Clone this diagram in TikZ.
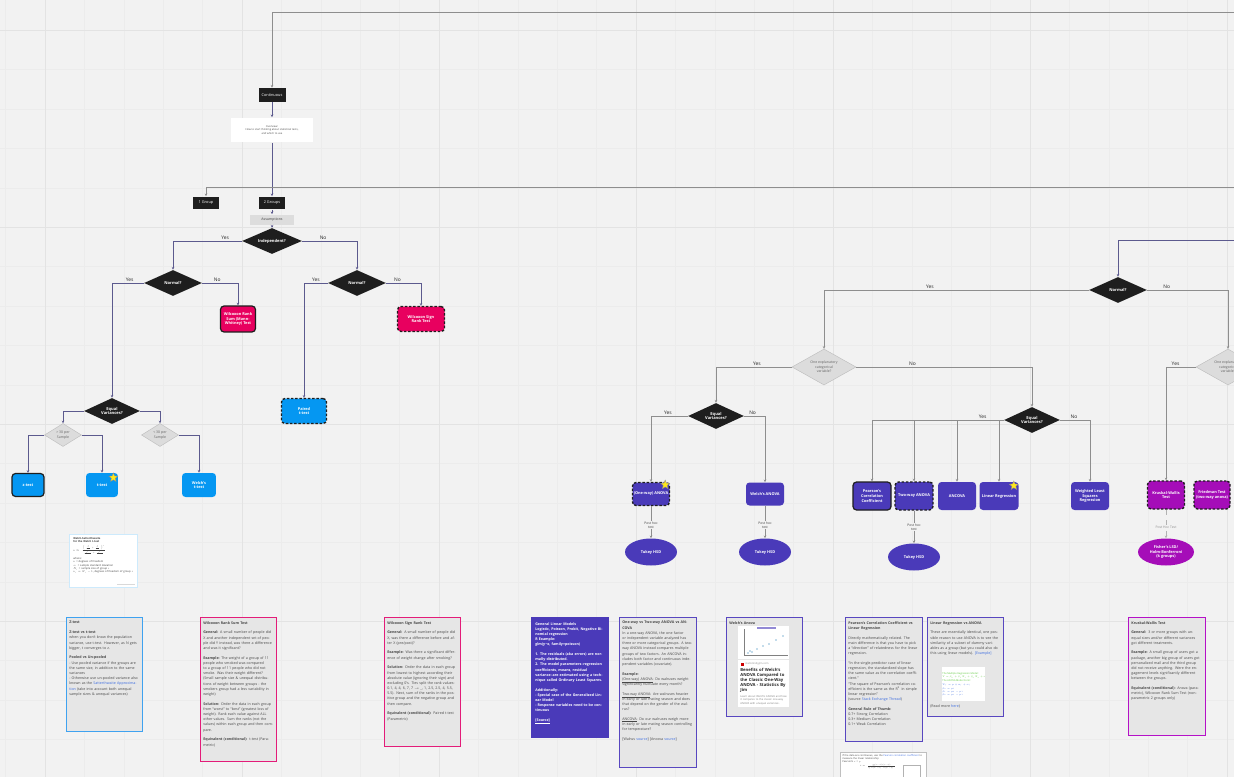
\RequirePackage{fix-cm}
\documentclass[tikz,border=0pt]{standalone}
\usepackage{fontspec}
\setmainfont{Open Sans}
\usepackage{xcolor}
\usepackage{amsmath}
\usetikzlibrary{positioning, arrows.meta, shapes, calc}

\definecolor{board}{HTML}{F2F2F2}
\definecolor{gridminor}{HTML}{ECECEC}
\definecolor{gridmajor}{HTML}{E3E3E3}
\definecolor{inkline}{HTML}{5C5A8E}
\definecolor{greyline}{HTML}{8E8E8E}
\definecolor{nodeblack}{HTML}{1E1E1E}
\definecolor{pinkred}{HTML}{E8005F}
\definecolor{skyblue}{HTML}{0597F2}
\definecolor{indigo}{HTML}{4A3AB9}
\definecolor{kwpurple}{HTML}{A50DB8}
\definecolor{cardgrey}{HTML}{E6E6E6}
\definecolor{zedge}{HTML}{3FA2F0}
\definecolor{pinkedge}{HTML}{E31C79}
\definecolor{indigoedge}{HTML}{5847C0}
\definecolor{kwedge}{HTML}{B511C7}
\definecolor{qgrey}{HTML}{DCDCDC}
\definecolor{qedge}{HTML}{BDBDBD}
\definecolor{assume}{HTML}{DDDDDD}
\definecolor{linkblue}{HTML}{3D6DE0}
\definecolor{starfill}{HTML}{FFE81A}
\definecolor{eqgreen}{HTML}{5CC93A}

\newcommand{\cardgap}{\par\vspace{2.6pt}}

\begin{document}
\begin{tikzpicture}[
        x=0.02cm, y=-0.02cm,
        decision/.style={diamond, aspect=2.2, fill=nodeblack, text=white, inner sep=0pt, minimum width=1.16cm, minimum height=0.52cm, align=center, font=\fontsize{2.3}{2.8}\selectfont\bfseries},
        question/.style={diamond, aspect=1.7, fill=qgrey, draw=qedge, line width=0.25pt, text=black!60, inner sep=0pt, minimum width=0.74cm, minimum height=0.46cm, align=center, font=\fontsize{2}{2.5}\selectfont},
        heading/.style={rectangle, fill=nodeblack, text=white, inner sep=0pt, minimum width=0.54cm, minimum height=0.28cm, font=\fontsize{2.2}{2.6}\selectfont},
        method/.style={rectangle, rounded corners=2pt, fill=#1, text=white, inner sep=0.4pt, minimum width=0.68cm, minimum height=0.5cm, align=center, font=\fontsize{2.2}{2.7}\selectfont\bfseries},
        bordered/.style={draw=nodeblack, line width=0.7pt},
        dashedbox/.style={draw=nodeblack, line width=0.8pt, dash pattern=on 1.4pt off 1pt},
        posthoc/.style={ellipse, fill=#1, text=white, inner sep=0pt, minimum width=1.04cm, minimum height=0.54cm, align=center, font=\fontsize{2.2}{2.7}\selectfont\bfseries},
        flow/.style={draw=inkline, line width=0.45pt, -{Stealth[length=1.5pt, width=1.4pt]}},
        flowgrey/.style={flow, draw=greyline},
        answer/.style={inner sep=0.6pt, text=black!85, font=\fontsize{2.8}{3.2}\selectfont},
        hint/.style={fill=board, inner sep=0.4pt, text=black!75, align=center, font=\fontsize{1.9}{2.3}\selectfont},
        card/.style={rectangle, draw=#1, line width=0.75pt, fill=cardgrey, anchor=north west, inner sep=0pt},
        cardtext/.style={anchor=north west, inner sep=0pt, text width=1.40cm, align=left, text=black!72, font=\fontsize{2.05}{2.95}\selectfont},
        badge/.style={star, star points=5, star point ratio=2.3, fill=starfill, draw=black!45, line width=0.2pt, inner sep=0pt, minimum size=0.19cm},
        shot/.style={rectangle, fill=white, anchor=north west, inner sep=0pt}
    ]

    \useasboundingbox (0,0) rectangle (1234,777);
    \clip (0,0) rectangle (1234,777);

    % board and grid
    \fill[board] (0,0) rectangle (1234,777);
    \foreach \k in {0,...,31} {
        \draw[gridminor, line width=0.3pt] ({5.6+39.4*\k},0) -- ({5.6+39.4*\k},777);
    }
    \foreach \k in {0,...,20} {
        \draw[gridminor, line width=0.3pt] (0,{-9.2+39.4*\k}) -- (1234,{-9.2+39.4*\k});
    }
    \foreach \k in {0,...,6} {
        \draw[gridmajor, line width=0.4pt] ({45+197*\k},0) -- ({45+197*\k},777);
    }
    \foreach \k in {0,...,3} {
        \draw[gridmajor, line width=0.4pt] (0,{30+197*\k}) -- (1234,{30+197*\k});
    }

    % --------------------------------------------------
    % top: continuous data
    \coordinate (topin) at (1234,12);
    \coordinate (groupsin) at (1234,187);
    \coordinate (rightin) at (1234,240);

    \node[heading] (cont) at (272,95) {Continuous};
    \node[fill=white, inner sep=0pt, minimum width=1.64cm, minimum height=0.5cm, align=center, text=black!70, font=\fontsize{1.5}{2.1}\selectfont] (overview) at (272,130)
        {Overview:\\How to start thinking about statistical tests,\\and which to use};
    \node[heading, minimum width=0.52cm, minimum height=0.26cm] (onegroup) at (206,203) {1 Group};
    \node[heading, minimum width=0.52cm, minimum height=0.26cm] (twogroups) at (272,203) {2 Groups};
    \node[fill=assume, inner sep=0pt, minimum width=0.88cm, minimum height=0.22cm, text=black!75, font=\fontsize{2}{2.4}\selectfont] (assump) at (272,220) {Assumptions};

    \draw[flowgrey] (topin) -| (cont.north);
    \draw[flow] (cont.south) -- (overview.north);
    \draw[flow] (overview.south) -- (twogroups.north);
    \draw[flowgrey] (groupsin) -| (onegroup.north);

    % --------------------------------------------------
    % left tree: two groups
    \node[decision, minimum width=1.2cm] (indep) at (272,241) {Independent?};
    \node[decision] (normA) at (173,283) {Normal?};
    \node[decision] (normB) at (357,283) {Normal?};
    \node[method=pinkred, bordered, minimum width=0.7cm, minimum height=0.52cm] (wrs) at (238,319) {Wilcoxon Rank\\Sum (Mann-\\Whitney) Test};
    \node[method=pinkred, dashedbox, minimum width=0.94cm] (wsr) at (421,319) {Wilcoxon Sign\\Rank Test};
    \node[method=skyblue, dashedbox, minimum width=0.9cm] (paired) at (304,411) {Paired\\t-test};
    \node[decision, minimum width=1.12cm] (eqvA) at (112,411) {Equal\\Variances?};
    \node[question, aspect=1.6] (large) at (63,435) {> 30 per\\Sample};
    \node[question, aspect=1.6] (small) at (160,435) {< 30 per\\Sample};
    \node[method=skyblue, bordered, minimum width=0.64cm, minimum height=0.46cm] (ztest) at (28,485) {z-test};
    \node[method=skyblue, minimum width=0.64cm, minimum height=0.48cm] (ttest) at (102,485) {t-test};
    \node[badge] (ttstar) at ([shift={(-5,5)}]ttest.north east) {};
    \node[method=skyblue, minimum width=0.68cm, minimum height=0.48cm] (welcht) at (199,485) {Welch's\\t-test};

    \draw[flow] (twogroups.south) -- (assump.north);
    \draw[flow] (assump.south) -- (indep.north);
    \draw[flow] (indep.west) -| node[answer, above, pos=0.12] (yesindep) {Yes} (normA.north);
    \draw[flow] (indep.east) -| node[answer, above, pos=0.19] (noindep) {No} (normB.north);
    \draw[flow] (normA.west) -| node[answer, above, pos=0.22] (yesnormA) {Yes} (eqvA.north);
    \draw[flow] (normA.east) -| node[answer, above, pos=0.21] (nonormA) {No} (wrs.north);
    \draw[flow] (normB.west) -| node[answer, above, pos=0.25] (yesnormB) {Yes} (paired.north);
    \draw[flow] (normB.east) -| node[answer, above, pos=0.16] (nonormB) {No} (wsr.north);
    \draw[flow] (eqvA.west) -| (large.north);
    \draw[flow] (eqvA.east) -| (small.north);
    \draw[flow] (large.west) -| (ztest.north);
    \draw[flow] (large.east) -| (ttest.north);
    \draw[flow] (small.east) -| (welcht.north);

    % --------------------------------------------------
    % right tree: three or more groups
    \node[decision] (normC) at (1118,290) {Normal?};
    \node[question, aspect=1.78, minimum width=1.28cm, minimum height=0.72cm] (expl) at (824,367) {One explanatory\\categorical\\variable?};
    \node[question, aspect=1.78, minimum width=1.28cm, minimum height=0.72cm] (explB) at (1228,367) {One explanatory\\categorical\\variable?};
    \node[decision, minimum width=1.12cm] (eqvB) at (716,416) {Equal\\Variances?};
    \node[decision, minimum width=1.12cm] (eqvC) at (1032,420) {Equal\\Variances?};
    \node[method=indigo, dashedbox, minimum width=0.74cm, minimum height=0.46cm] (oneway) at (651,494) {(One-way) ANOVA};
    \node[badge] (owstar) at ([shift={(-5,3)}]oneway.north east) {};
    \node[method=indigo, minimum width=0.76cm, minimum height=0.46cm] (welcha) at (765,494) {Welch's ANOVA};
    \node[posthoc=indigo] (tukeyA) at (651,552) {Tukey HSD};
    \node[posthoc=indigo] (tukeyB) at (765,552) {Tukey HSD};
    \node[method=indigo, bordered, minimum width=0.76cm, minimum height=0.56cm] (pearson) at (872,496) {Pearson's\\Correlation\\Coefficient};
    \node[method=indigo, dashedbox, minimum width=0.76cm, minimum height=0.56cm] (twoway) at (914,496) {Two-way ANOVA};
    \node[method=indigo, minimum width=0.76cm, minimum height=0.56cm] (ancova) at (957,496) {ANCOVA};
    \node[method=indigo, minimum width=0.78cm, minimum height=0.56cm] (linreg) at (999,496) {Linear Regression};
    \node[badge] (lrstar) at ([shift={(-5,4)}]linreg.north east) {};
    \node[method=indigo, minimum width=0.76cm, minimum height=0.56cm] (wls) at (1090,496) {Weighted Least\\Squares\\Regression};
    \node[posthoc=indigo] (tukeyC) at (914,557) {Tukey HSD};
    \node[method=kwpurple, dashedbox, minimum width=0.74cm, minimum height=0.56cm] (kruskal) at (1166,495) {Kruskal-Wallis\\Test};
    \node[method=kwpurple, dashedbox, minimum width=0.72cm, minimum height=0.56cm] (friedman) at (1212,495) {Friedman Test\\(two-way anova)};
    \node[posthoc=kwpurple, minimum width=1.12cm] (fisher) at (1166,552) {Fisher's LSD/\\Holm-Bonferroni\\(k groups)};

    \draw[flow] (rightin) -| (normC.north);
    \draw[flowgrey] (normC.west) -| node[answer, above, pos=0.3] (yesnormC) {Yes} (expl.north);
    \draw[flowgrey] (normC.east) -| node[answer, above, pos=0.12] (nonormC) {No} (explB.north);
    \draw[flowgrey] (expl.west) -| node[answer, above, pos=0.23] (yesexpl) {Yes} (eqvB.north);
    \draw[flowgrey] (expl.east) -| node[answer, above, pos=0.16] (noexpl) {No} (eqvC.north);
    \draw[flowgrey] (eqvB.west) -| node[answer, above, pos=0.27] (yeseqvB) {Yes} (oneway.north);
    \draw[flowgrey] (eqvB.east) -| node[answer, above, pos=0.2] (noeqvB) {No} (welcha.north);
    \draw[flowgrey] (oneway.south) -- node[hint, pos=0.6] (phA) {Post hoc\\test} (tukeyA.north);
    \draw[flowgrey] (welcha.south) -- node[hint, pos=0.6] (phB) {Post hoc\\test} (tukeyB.north);
    \draw[flowgrey] (eqvC.west) -| node[answer, above, pos=0.08] (yeseqvC) {Yes} (pearson.north);
    \foreach \m in {twoway, ancova, linreg} {
        \draw[flowgrey] (\m.north |- eqvC.west) -- (\m.north);
    }
    \draw[flowgrey] (eqvC.east) -| node[answer, above, pos=0.23] (noeqvC) {No} (wls.north);
    \draw[flowgrey] (twoway.south) -- node[hint, pos=0.5] (phC) {Post hoc\\test} (tukeyC.north);
    \draw[flowgrey] (explB.west) -| node[answer, above, pos=0.34] (yesexplB) {Yes} (kruskal.north);
    \draw[flowgrey, draw=black!30, dashed] (kruskal.south) -- node[hint, text=black!45, pos=0.62] (phK) {Post Hoc Test} (fisher.north);

    % --------------------------------------------------
    % screenshots
    \node[shot, draw=skyblue!20, line width=0.3pt, minimum width=1.36cm, minimum height=1.06cm] (sattshot) at (69,534) {};
    \node[anchor=north west, inner sep=0pt, text width=1.24cm, align=left, text=black!75, font=\fontsize{1.5}{1.9}\selectfont] (satttext) at ([shift={(4,3)}]sattshot.north west)
        {\textbf{Welch-Satterthwaite}\\\textbf{for the Welch t-test}\\[0.6pt]
         $\nu \approx \frac{\left(\frac{s_1^2}{N_1}+\frac{s_2^2}{N_2}\right)^2}{\frac{s_1^4}{N_1^2\nu_1}+\frac{s_2^4}{N_2^2\nu_2}}$\\[0.6pt]
         where:\\ $\nu$ = degrees of freedom\\ $s_i$ = sample standard deviation\\ $N_i$ = sample size of group $i$\\ $\nu_i = N_i-1$, degrees of freedom of group $i$};
    \fill[black!15] ([shift={(-21,-4)}]sattshot.south east) rectangle ([shift={(-3,-2.5)}]sattshot.south east);

    \node[shot, draw=black!25, line width=0.3pt, minimum width=1.72cm, minimum height=0.6cm] (rshot) at (840,752) {};
    \node[anchor=north west, inner sep=0pt, text width=1.6cm, align=left, text=black!75, font=\fontsize{1.4}{1.8}\selectfont] (rtext) at ([shift={(2,2)}]rshot.north west)
        {If the data are continuous, use the \textcolor{linkblue}{Pearson correlation coefficient} to measure the linear relationship\\
         Pearson's $r$ = $\rho$\\[0.5pt]
         \hspace*{0.35cm}$r=\frac{\sum (x_i-\bar x)(y_i-\bar y)}{\sqrt{\sum (x_i-\bar x)^2\sum (y_i-\bar y)^2}}$};
    \draw[black!30, line width=0.3pt] (903,765) rectangle (920,777);

    % --------------------------------------------------
    % note cards
    \node[card=zedge, minimum width=1.52cm, minimum height=2.28cm] (zcard) at (66,617) {};
    \node[cardtext] (ztext) at ([shift={(3,4)}]zcard.north west)
        {\textbf{Z-test}\cardgap
         \textbf{Z-test vs t-test}\\
         when you don't know the population variance, use t-test. However, as N gets bigger, t converges to z.\cardgap
         \textbf{Pooled vs Un-pooled}\\
         - Use pooled variance if the groups are the same size, in addition to the same variances\\
         - Otherwise use un-pooled variance also known as the \textcolor{linkblue}{Satterthwaite Approximation} (take into account both unequal sample sizes \& unequal variances)};

    \node[card=pinkedge, minimum width=1.52cm, minimum height=2.88cm] (wrscard) at (200,617) {};
    \node[cardtext] (wrstext) at ([shift={(3,4)}]wrscard.north west)
        {\textbf{Wilcoxon Rank Sum Test}\cardgap
         \textbf{General:} A small number of people did X and another independent set of people did Y instead, was there a difference and was it significant?\cardgap
         \textbf{Example:} The weight of a group of 11 people who smoked was compared to a group of 11 people who did not smoke. Was their weight different? (Small sample size \& unequal distributions of weight between groups - the smokers group had a less variability in weight)\cardgap
         \textbf{Solution:} Order the data in each group from ``worst'' to ``best'' (greatest loss of weight). Rank each value against ALL other values. Sum the ranks (not the values) within each group and then compare.\cardgap
         \textbf{Equivalent (conditional):} t-test (Parametric)};

    \node[card=pinkedge, minimum width=1.52cm, minimum height=2.58cm] (wsrcard) at (384,617) {};
    \node[cardtext] (wsrtext) at ([shift={(3,4)}]wsrcard.north west)
        {\textbf{Wilcoxon Sign Rank Test}\cardgap
         \textbf{General:} A small number of people did X, was there a difference before and after X (pre/post)?\cardgap
         \textbf{Example:} Was there a significant difference of weight change after smoking?\cardgap
         \textbf{Solution:} Order the data in each group from lowest to highest according their absolute value (ignoring their sign) and excluding 0's. Ties split the rank values: 0.1, 4, 4, 6, 7, 7 $\rightarrow$ \_, 1, 2.5, 2.5, 4, 5.5, 5.5). Next, sum of the ranks in the positive group and the negative group and then compare.\cardgap
         \textbf{Equivalent (conditional):} Paired t-test (Parametric)};

    \node[card=indigo, fill=indigo, minimum width=1.54cm, minimum height=2.4cm] (glmcard) at (531,617) {};
    \node[cardtext, text=white, font=\fontsize{2.05}{2.95}\selectfont\bfseries] (glmtext) at ([shift={(4,5)}]glmcard.north west)
        {General Linear Models\\
         Logistic, Poisson, Probit, Negative Binomial regression\\
         R Example:\\
         glm(y\textasciitilde x, family=poisson)\cardgap
         1. The residuals (aka errors) are normally distributed.\\
         2. The model parameters--regression coefficients, means, residual variance--are estimated using a technique called Ordinary Least Squares.\cardgap
         Additionally:\\
         - Special case of the Generalized Linear Model\\
         - Response variables need to be continuous\cardgap
         \underline{[Source]}};

    \node[card=indigoedge, minimum width=1.54cm, minimum height=3.0cm] (anovacard) at (619,617) {};
    \node[cardtext] (anovatext) at ([shift={(3,4)}]anovacard.north west)
        {\textbf{One-way vs Two-way ANOVA vs ANCOVA}\\
         In a one-way ANOVA, the one factor or independent variable analyzed has three or more categorical groups. A two-way ANOVA instead compares multiple groups of two factors. An ANCOVA includes both factor and continuous independent variables (covariate).\cardgap
         \textbf{Example:}\\
         \underline{(One-way) ANOVA}: Do walruses weight significantly fluctuate every month?\cardgap
         \underline{Two-way ANOVA}: Are walruses heavier in early or late mating season and does that depend on the gender of the walrus?\cardgap
         \underline{ANCOVA}: Do our walruses weigh more in early or late mating season controlling for temperature?\cardgap
         [Walrus \textcolor{linkblue}{source}] [Ancova \textcolor{linkblue}{source}]};

    \node[card=indigoedge, minimum width=1.52cm, minimum height=1.98cm] (welchcard) at (726,617) {};
    \node[cardtext, font=\fontsize{2.05}{2.95}\selectfont\bfseries] (welchtitle) at ([shift={(3,4)}]welchcard.north west) {Welch's Anova};
    \node[shot, minimum width=1.02cm, minimum height=0.66cm] (welchplot) at (738,626) {};
    \draw[black!50, line width=0.2pt] (744,629) -- (744,655) -- (788,655);
    \fill[indigo!60] (757,627.3) rectangle (776,628.6);
    \foreach \px/\py in {748/653, 750/651, 752/652, 757/649, 763/646, 769/644, 776/640, 783/636} {
        \fill[skyblue!70!black] (\px,\py) circle (0.35pt);
    }
    \node[shot, minimum width=1.02cm, minimum height=0.94cm] (welchlink) at (738,660) {};
    \fill[red!80!black] (741,663) rectangle (743.5,665.5);
    \node[anchor=west, inner sep=0pt, text=black!45, font=\fontsize{1.5}{1.8}\selectfont] (welchsite) at (745,664.2) {statisticsbyjim.com};
    \node[anchor=north west, inner sep=0pt, text width=0.94cm, align=left, text=black!85, font=\fontsize{2.4}{2.9}\selectfont\bfseries] (welchhead) at (740,668)
        {Benefits of Welch's ANOVA Compared to the Classic One-Way ANOVA - Statistics By Jim};
    \node[anchor=north west, inner sep=0pt, text width=0.94cm, align=left, text=black!50, font=\fontsize{1.5}{1.9}\selectfont] (welchblurb) at (740,695)
        {Learn about Welch's ANOVA and how it compares to the classic one-way ANOVA with unequal variances.};

    \node[card=indigoedge, minimum width=1.54cm, minimum height=2.48cm] (pearsoncard) at (845,617) {};
    \node[cardtext] (pearsontext) at ([shift={(3,4)}]pearsoncard.north west)
        {\textbf{Pearson's Correlation Coefficient vs Linear Regression}\cardgap
         Directly mathematically related. The main difference is that you have to pick a ``direction'' of relatedness for the linear regression.\cardgap
         ``In the single-predictor case of linear regression, the standardized slope has the same value as the correlation coefficient.''\\
         ``The square of Pearson's correlation coefficient is the same as the R$^2$ in simple linear regression''\\
         (source \textcolor{linkblue}{Stack Exchange Thread})\cardgap
         \textbf{General Rule of Thumb:}\\
         0.7+ Strong Correlation\\
         0.3+ Medium Correlation\\
         0.1+ Weak Correlation};

    \node[card=indigoedge, minimum width=1.52cm, minimum height=1.98cm] (lracard) at (927,617) {};
    \node[cardtext] (lratext) at ([shift={(3,4)}]lracard.north west)
        {\textbf{Linear Regression vs ANOVA}\cardgap
         These are essentially identical, one possible reason to use ANOVA is to see the similarity of a subset of dummy variables as a group (but you could also do this using linear models). \textcolor{linkblue}{[Example]}};
    \node[shot, minimum width=0.86cm, minimum height=0.68cm] (lrshot) at (942,667) {};
    \node[inner sep=0pt, align=left, font=\fontsize{1.4}{1.8}\selectfont] (lrshottext) at (lrshot.center)
        {\textcolor{eqgreen}{The Multiple Regression Model:}\\
         \textcolor{eqgreen}{$Y=\beta_0+\beta_1X_1+\beta_2X_2+\epsilon$}\\[0.5pt]
         \textcolor{eqgreen}{The ANOVA Model Form:}\\
         \textcolor{linkblue}{$Y_{ij}=\mu+\alpha_j+\epsilon_{ij}$}\\[0.5pt]
         \textcolor{linkblue}{$\beta_0=\mu_1$}\\
         \textcolor{linkblue}{$\beta_1=\mu_2-\mu_1$}\\
         \textcolor{linkblue}{$\beta_2=\mu_3-\mu_1$}};
    \node[cardtext] (lramore) at ([shift={(3,87)}]lracard.north west) {(Read more \textcolor{linkblue}{here})};

    \node[card=kwedge, minimum width=1.54cm, minimum height=2.36cm] (kwcard) at (1128,617) {};
    \node[cardtext] (kwtext) at ([shift={(3,4)}]kwcard.north west)
        {\textbf{Kruskal-Wallis Test}\cardgap
         \textbf{General:} 3 or more groups with unequal sizes and/or different variances got different treatments.\cardgap
         \textbf{Example:} A small group of users got a package, another big group of users got personalized mail and the third group did not receive anything. Were the engagement levels significantly different between the groups.\cardgap
         \textbf{Equivalent (conditional):} Anova (parametric), Wilcoxon Rank Sum Test (non-parametric 2 groups only)};

\end{tikzpicture}
\end{document}
